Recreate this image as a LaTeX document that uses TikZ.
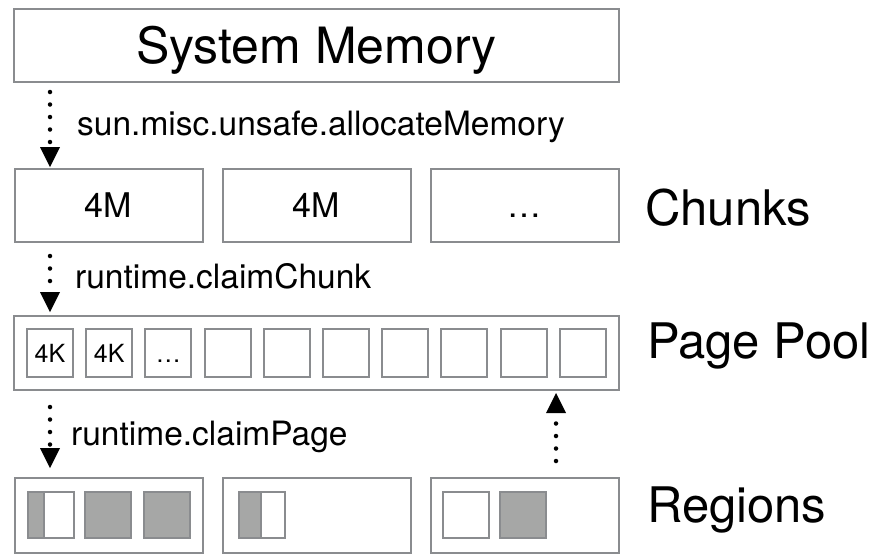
\documentclass[tikz,border=0pt]{standalone}
\usepackage{fontspec}
\setmainfont{TeX Gyre Heros}
\usetikzlibrary{arrows.meta,positioning}

\definecolor{boxgray}{RGB}{138,140,143}
\definecolor{pagegray}{RGB}{166,167,166}

\begin{document}
\begin{tikzpicture}[
    x = 1pt, y = -1pt,
    box/.style = {
      draw = boxgray,
      line width = 2pt,
      rectangle,
      inner sep = 0pt,
      minimum height = 73pt},
    chunk/.style = {
      box,
      minimum width = 188pt,
      font = \fontsize{34}{40}\selectfont,
      text height = 24pt,
      text depth = 0pt},
    region/.style = {box, minimum width = 188pt, minimum height = 75pt},
    slot/.style = {
      box,
      minimum width = 46pt,
      minimum height = 48pt,
      font = \fontsize{25}{30}\selectfont,
      text height = 18pt,
      text depth = 0pt},
    used/.style = {slot, fill = pagegray},
    part/.style = {
      slot,
      path picture = {
        \fill[pagegray] (path picture bounding box.north west)
          rectangle ([xshift=#1]path picture bounding box.south west);
        \draw[boxgray, line width=2pt] ([xshift=#1]path picture bounding box.north west)
          -- ([xshift=#1]path picture bounding box.south west);
      }},
    call/.style = {
      anchor = base west,
      inner sep = 0pt,
      font = \fontsize{33.5}{40}\selectfont},
    layer/.style = {
      anchor = base west,
      inner sep = 0pt,
      font = \fontsize{49}{58}\selectfont},
    flow/.style = {
      line width = 4.5pt,
      line cap = round,
      dash pattern = on 0pt off 12.5pt,
      -{Triangle[width=20pt,length=20pt,line width=0pt]}}
  ]
  \useasboundingbox (0,0) rectangle (883,555);

  % system memory
  \node[box, minimum width=605pt, text height=36pt, text depth=0pt,
    font=\fontsize{50}{60}\selectfont] (sys) at (316.5,45.5) {System Memory};

  % chunks
  \node[chunk] (chunkA) at (108.5,205.5) {4M};
  \node[chunk, right=18pt of chunkA] (chunkB) {4M};
  \node[chunk, right=18pt of chunkB] (chunkC) {…};

  % page pool
  \node[box, minimum width=605pt, minimum height=74pt] (pool) at (316.5,352.5) {};
  \foreach \i/\t in {0/4K,1/4K,2/…,3/,4/,5/,6/,7/,8/,9/}
    \node[slot] (page\i) at (50+59.2*\i,353) {\t};

  % regions
  \node[region] (regA) at (108.5,515) {};
  \node[region, right=18pt of regA] (regB) {};
  \node[region, right=18pt of regB] (regC) {};

  \node[part=15.5pt, minimum height=46pt] (slotA1) at (51,515) {};
  \node[used, minimum height=46pt] (slotA2) at (108,515) {};
  \node[used, minimum height=46pt] (slotA3) at (167,515) {};
  \node[part=22pt, minimum height=46pt] (slotB1) at (261.5,515) {};
  \node[slot, minimum height=46pt] (slotC1) at (466,515) {};
  \node[used, minimum height=46pt] (slotC2) at (523,515) {};

  % arrows
  \coordinate (lane) at (50,0);
  \coordinate (back) at (556,0);
  \draw[flow, shorten <=9pt, shorten >=1pt] (sys.south -| lane) -- (chunkA.north -| lane);
  \draw[flow, shorten <=13pt, shorten >=2.5pt] (chunkA.south -| lane) -- (pool.north -| lane);
  \draw[flow, shorten <=16.5pt, shorten >=8.5pt] (pool.south -| lane) -- (regA.north -| lane);
  \draw[flow, shorten <=15.5pt, shorten >=2.5pt] (regC.north -| back) -- (pool.south -| back);

  % labels
  \node[call] (callA) at (77,135) {sun.misc.unsafe.allocateMemory};
  \node[call] (callB) at (75,288) {runtime.claimChunk};
  \node[call] (callC) at (71,445) {runtime.claimPage};

  \node[layer] (nameA) at (645,225) {Chunks};
  \node[layer] (nameB) at (647,358) {Page Pool};
  \node[layer] (nameC) at (647,522) {Regions};

\end{tikzpicture}
\end{document}
